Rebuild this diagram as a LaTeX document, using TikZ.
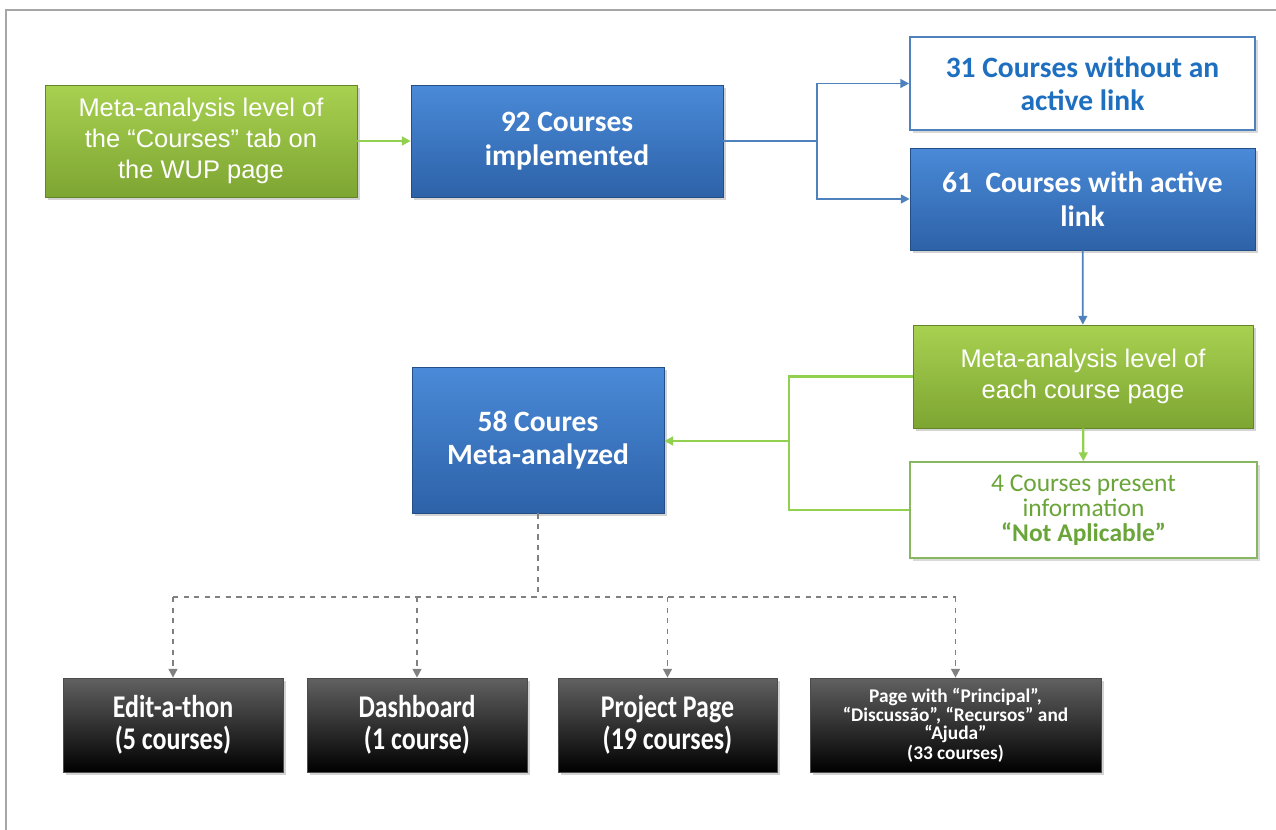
\documentclass[tikz,border=0pt]{standalone}
\usepackage{fontspec}
\usepackage{tikz}
\usetikzlibrary{arrows.meta,shadows}

\newfontfamily\arialfont{Liberation Sans}
\newfontfamily\calfont{Carlito}
\newfontfamily\calcond[FakeStretch=0.82]{Carlito}

\definecolor{bluetop}{HTML}{4A8AD8}
\definecolor{bluebot}{HTML}{2D62A8}
\definecolor{greentop}{HTML}{A8D151}
\definecolor{greenbot}{HTML}{7DA532}
\definecolor{linkblue}{HTML}{1F6FC0}
\definecolor{edgeblue}{HTML}{4F81BD}
\definecolor{edgegreen}{HTML}{92D050}
\definecolor{textgreen}{HTML}{6AA539}

\tikzset{
  box/.style={rectangle, align=center, inner sep=2pt,
    drop shadow={opacity=0.35, shadow xshift=1.5pt, shadow yshift=-1.5pt}},
  greenbox/.style={box, top color=greentop, bottom color=greenbot, draw=greenbot!80!black,
    text=white, font=\arialfont\fontsize{14.5}{17.6}\selectfont},
  bluebox/.style={box, top color=bluetop, bottom color=bluebot, draw=bluebot!80!black,
    text=white, font=\calfont\bfseries\fontsize{16.8}{19}\selectfont},
  blackbox/.style={box, top color=black!62, bottom color=black, draw=black!70,
    text=white, font=\calcond\bfseries\fontsize{18}{18}\selectfont},
  whitebox/.style={rectangle, align=center, fill=white, line width=1pt,
    drop shadow={opacity=0.3, shadow xshift=1.5pt, shadow yshift=-1.5pt}},
  bline/.style={edgeblue, line width=1pt},
  gline/.style={edgegreen, line width=1.2pt},
  dline/.style={black!50, line width=1pt, dashed},
  tip/.style={-{Triangle[length=5pt,width=5pt]}}
}

\begin{document}
\begin{tikzpicture}[x=0.02cm, y=-0.02cm]
\useasboundingbox (0,0) rectangle (1276,830);

%% frame
\draw[black!35, line width=1.5pt] (6,830) -- (6,10) -- (1276,10);

%% top row
\node[greenbox, minimum width=6.24cm, minimum height=2.24cm] (metawup) at (201,141)
  {Meta-analysis level of\\the “Courses” tab on\\the WUP page};
\node[bluebox, minimum width=6.24cm, minimum height=2.24cm] (impl) at (567,141)
  {92 Courses\\implemented};
\node[whitebox, draw=edgeblue, text=linkblue, font=\calfont\bfseries\fontsize{16.8}{19}\selectfont,
  minimum width=6.9cm, minimum height=1.86cm] (nolink) at (1082.5,83.5)
  {31 Courses without an\\active link};
\node[bluebox, minimum width=6.9cm, minimum height=2.04cm] (withlink) at (1082.5,199)
  {61\ \ Courses with active\\link};

%% middle
\node[greenbox, minimum width=6.8cm, minimum height=2.06cm] (metacourse) at (1083,376.5)
  {Meta-analysis level of\\each course page};
\node[whitebox, draw=textgreen!80, text=textgreen, font=\calfont\fontsize{14.5}{14.2}\selectfont,
  minimum width=6.94cm, minimum height=1.92cm] (notappl) at (1083.5,510)
  {4 Courses present\\information\\\textbf{“Not Aplicable”}};
\node[bluebox, minimum width=5.04cm, minimum height=2.92cm] (analyzed) at (538,440)
  {58 Coures\\Meta-analyzed};

%% bottom row
\node[blackbox, minimum width=4.4cm, minimum height=1.88cm] (edit) at (173,725)
  {Edit-a-thon\\(5 courses)};
\node[blackbox, minimum width=4.4cm, minimum height=1.88cm] (dash) at (417,725)
  {Dashboard\\(1 course)};
\node[blackbox, minimum width=4.38cm, minimum height=1.88cm] (proj) at (667.5,725)
  {Project Page\\(19 courses)};
\node[blackbox, font=\calfont\bfseries\fontsize{11}{9.6}\selectfont,
  minimum width=5.82cm, minimum height=1.88cm] (pagewith) at (955.5,725)
  {Page with “Principal”,\\“Discussão”, “Recursos” and\\“Ajuda”\\(33 courses)};

%% split points
\coordinate (bsplit) at (817,141);
\coordinate (gjoin) at (789,441);
\coordinate (dsplit) at (538,597);

%% edges
\draw[gline, tip] (metawup) -- (impl);
\draw[bline] (impl.east) -- (bsplit);
\draw[bline, tip] (bsplit) |- (nolink.west);
\draw[bline, tip] (bsplit) |- (withlink.west);
\draw[bline, tip] (withlink) -- (metacourse);
\draw[gline, tip] (metacourse) -- (notappl);
\draw[gline] (metacourse.west) -| (gjoin) |- (notappl.west);
\draw[gline, tip] (gjoin) -- (gjoin -| analyzed.east);

%% dashed tree
\draw[dline] (analyzed) -- (dsplit);
\draw[dline] (edit.north |- dsplit) -- (pagewith.north |- dsplit);
\foreach \leaf in {edit, dash, proj, pagewith}
  \draw[dline, tip] (\leaf.north |- dsplit) -- (\leaf.north);
\end{tikzpicture}
\end{document}
